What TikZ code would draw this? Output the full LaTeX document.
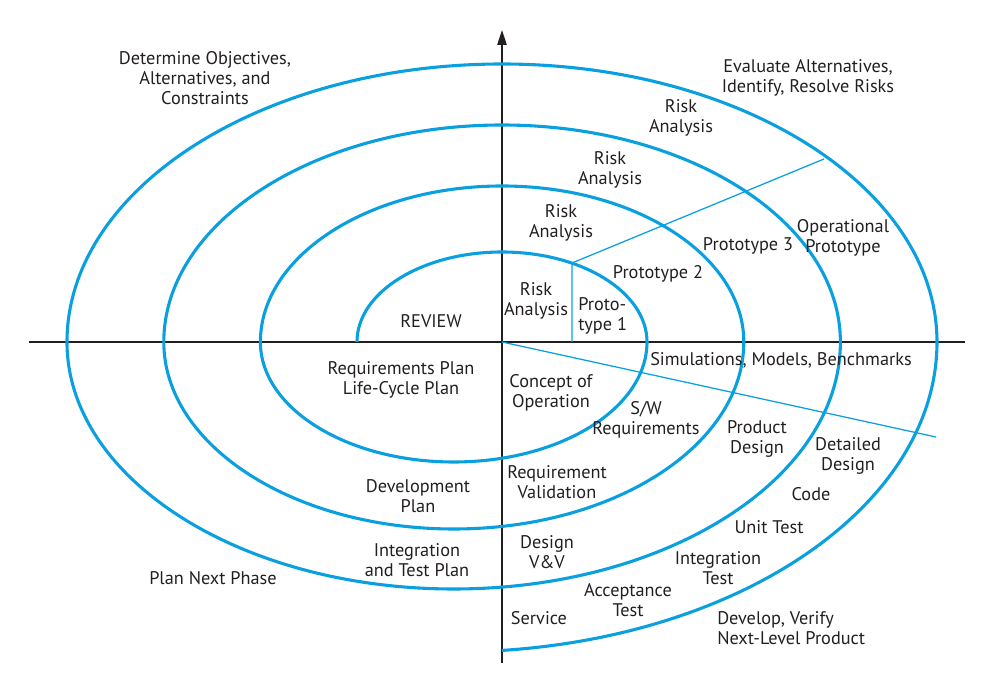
\documentclass[tikz,border=0pt]{standalone}
\usepackage{fontspec}
\setmainfont{PT Sans}
\usepackage{xcolor}
\usetikzlibrary{arrows.meta}
\definecolor{spiralblue}{HTML}{0AA0E0}
\definecolor{inkdark}{HTML}{231F20}

\begin{document}
\begin{tikzpicture}[
    x=0.025cm, y=0.025cm,
    spiral/.style={draw=spiralblue, line width=2.2pt},
    divider/.style={draw=spiralblue, line width=0.9pt},
    axis/.style={draw=inkdark, line width=0.9pt},
    lbl/.style={inner sep=0pt, align=center, text=inkdark,
                font=\fontsize{13}{14.2}\selectfont},
]
    \useasboundingbox (-502,-352) rectangle (492,342);

    % axes
    \coordinate (W) at (-473,0);
    \coordinate (E) at (463,0);
    \coordinate (S) at (0,-321);
    \coordinate (N) at (0,312);
    \draw[axis] (W) -- (E);
    \draw[axis, -{Triangle[length=10.5pt, width=6.6pt]}] (S) -- (N);

    % the spiral, half ellipse by half ellipse
    \draw[spiral] (-145,0)
        arc[start angle=180, end angle=0, x radius=145, y radius=90]
        arc[start angle=0, end angle=-180, x radius=193.3, y radius=120]
        arc[start angle=180, end angle=0, x radius=241.7, y radius=156]
        arc[start angle=0, end angle=-180, x radius=290, y radius=187]
        arc[start angle=180, end angle=0, x radius=338.3, y radius=217]
        arc[start angle=0, end angle=-180, x radius=386.7, y radius=247]
        arc[start angle=180, end angle=0, x radius=435, y radius=278]
        arc[start angle=0, end angle=-84.26, x radius=483.3, y radius=310];

    % dividers
    \coordinate (O) at (0,0);
    \coordinate (q1) at (70,0);
    \coordinate (p1) at (70,79);
    \coordinate (p4) at (322,183);
    \coordinate (d4) at (434,-95);
    \draw[divider] (q1) -- (p1) -- (p4);
    \draw[divider] (O) -- (d4);

    % quadrant titles
    \node[lbl] (objectives) at (-297,264) {Determine Objectives,\\Alternatives, and\\Constraints};
    \node[lbl] (evaluate) at (306,264) {Evaluate Alternatives,\\Identify, Resolve Risks};
    \node[lbl] (nextphase) at (-289,-236) {Plan Next Phase};
    \node[lbl, align=left, anchor=west] (develop) at (215,-286) {Develop, Verify\\Next-Level Product};

    % risk analysis and prototypes
    \node[lbl] (risk4) at (179,224) {Risk\\Analysis};
    \node[lbl] (risk3) at (108,172) {Risk\\Analysis};
    \node[lbl] (risk2) at (59,119) {Risk\\Analysis};
    \node[lbl] (risk1) at (34,41) {Risk\\Analysis};
    \node[lbl, align=left, anchor=west] (proto1) at (76,26) {Proto-\\type 1};
    \node[lbl] (proto2) at (156,68) {Prototype 2};
    \node[lbl] (proto3) at (246,96) {Prototype 3};
    \node[lbl] (opproto) at (341,104) {Operational\\Prototype};
    \node[lbl] (review) at (-71,21) {REVIEW};

    % plans
    \node[lbl] (reqplan) at (-101,-38) {Requirements Plan\\Life-Cycle Plan};
    \node[lbl] (devplan) at (-84,-154) {Development\\Plan};
    \node[lbl] (intplan) at (-85,-218) {Integration\\and Test Plan};

    % development steps
    \node[lbl] (sim) at (279,-18) {Simulations, Models, Benchmarks};
    \node[lbl] (concept) at (49,-51) {Concept of\\Operation};
    \node[lbl] (swreq) at (144,-78) {S/W\\Requirements};
    \node[lbl] (proddes) at (255,-97) {Product\\Design};
    \node[lbl] (detdes) at (346,-114) {Detailed\\Design};
    \node[lbl] (code) at (309,-152) {Code};
    \node[lbl] (unit) at (267,-185) {Unit Test};
    \node[lbl] (integ) at (216,-226) {Integration\\Test};
    \node[lbl] (reqval) at (55,-140) {Requirement\\Validation};
    \node[lbl] (designvv) at (45,-210) {Design\\V\&V};
    \node[lbl] (accept) at (126,-258) {Acceptance\\Test};
    \node[lbl] (service) at (37,-276) {Service};
\end{tikzpicture}
\end{document}
